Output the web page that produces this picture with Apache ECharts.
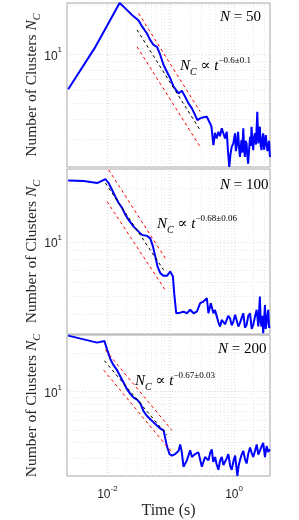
<!DOCTYPE html>
<html><head><meta charset="utf-8">
<script src="https://cdn.jsdelivr.net/npm/echarts@6/dist/echarts.min.js"></script>
<style>html,body{margin:0;padding:0;background:#fff}#c{width:299px;height:520px}</style>
</head><body><div id="c"></div>
<script>
// ---- data (time in s, number of clusters) ----
const timeN50 = [0.0024, 0.00647, 0.0156, 0.0192, 0.0245, 0.0311, 0.0352, 0.0422, 0.0475, 0.0536, 0.0607, 0.0684, 0.0771, 0.0871, 0.0982, 0.111, 0.133, 0.150, 0.169, 0.191, 0.216, 0.243, 0.264, 0.292, 0.329, 0.372, 0.419, 0.44, 0.472, 0.50, 0.53, 0.566, 0.60, 0.640, 0.678, 0.72, 0.767, 0.80, 0.84, 0.88, 0.920, 0.975, 1.01, 1.04, 1.07, 1.10, 1.13, 1.16, 1.20, 1.24, 1.27, 1.31, 1.35, 1.40, 1.44, 1.48, 1.53, 1.58, 1.62, 1.67, 1.73, 1.79, 1.84, 1.89, 1.95, 2.01, 2.07, 2.14, 2.22, 2.33, 2.42, 2.49, 2.56, 2.64, 2.72, 2.80, 2.89, 2.98, 3.08, 3.17, 3.27, 3.37, 3.47, 3.58, 3.69];
const countN50 = [6.10, 11.1, 20.6, 19.1, 17.4, 16.1, 14.8, 13.4, 12.2, 11.4, 11.1, 9.9, 8.6, 7.82, 7.13, 6.33, 5.76, 5.98, 5.49, 5.00, 4.66, 4.24, 3.95, 4.05, 4.11, 4.14, 3.77, 3.60, 2.78, 3.30, 3.05, 3.35, 3.15, 3.52, 3.28, 3.05, 3.35, 2.60, 2.04, 2.45, 2.71, 2.84, 3.10, 3.28, 2.55, 2.71, 3.05, 3.35, 2.70, 2.35, 2.60, 2.98, 2.50, 3.52, 2.70, 2.35, 2.95, 2.84, 2.40, 2.14, 2.60, 3.12, 2.75, 3.60, 2.90, 2.59, 3.10, 3.28, 2.80, 4.45, 2.84, 3.30, 3.60, 2.75, 2.59, 3.05, 3.28, 2.60, 2.84, 3.20, 3.28, 2.55, 2.71, 2.95, 2.35];

const timeN100 = [0.0024, 0.00423, 0.00689, 0.0093, 0.01048, 0.01186, 0.01337, 0.01507, 0.01704, 0.0192, 0.02163, 0.02594, 0.0311, 0.0352, 0.0422, 0.0475, 0.0525, 0.0570, 0.0620, 0.0684, 0.0771, 0.0871, 0.0982, 0.1083, 0.1135, 0.1221, 0.1411, 0.159, 0.180, 0.203, 0.229, 0.259, 0.292, 0.329, 0.372, 0.394, 0.430, 0.472, 0.50, 0.535, 0.565, 0.602, 0.64, 0.678, 0.72, 0.767, 0.81, 0.865, 0.92, 0.975, 1.04, 1.10, 1.17, 1.24, 1.32, 1.40, 1.49, 1.58, 1.68, 1.79, 1.90, 2.01, 2.14, 2.28, 2.42, 2.56, 2.64, 2.72, 2.80, 2.89, 2.98, 3.08, 3.17, 3.27, 3.37, 3.47, 3.58, 3.69];
const countN100 = [22.0, 21.9, 21.3, 22.4, 21.3, 19.5, 17.9, 16.5, 15.5, 14.2, 13.3, 12.2, 11.45, 10.98, 10.84, 10.5, 9.45, 8.32, 7.32, 6.73, 6.50, 6.50, 6.87, 6.44, 5.21, 4.03, 4.06, 4.11, 4.03, 4.21, 4.03, 4.11, 4.58, 4.68, 4.89, 4.03, 4.58, 4.03, 4.20, 3.86, 3.60, 3.40, 3.70, 3.78, 3.50, 3.70, 3.90, 3.78, 3.45, 3.62, 3.95, 3.86, 3.40, 3.55, 3.80, 4.03, 3.35, 3.47, 3.90, 4.03, 3.30, 3.47, 3.85, 4.21, 3.40, 4.99, 3.60, 3.40, 3.90, 3.12, 3.70, 4.48, 3.30, 3.55, 3.95, 4.21, 3.35, 3.40];

const timeN200 = [0.0024, 0.00689, 0.00897, 0.00989, 0.01115, 0.01256, 0.01422, 0.0160, 0.01806, 0.0204, 0.0230, 0.0259, 0.0294, 0.0331, 0.0373, 0.0422, 0.0475, 0.0536, 0.0607, 0.0684, 0.0771, 0.0819, 0.0871, 0.0957, 0.1044, 0.1177, 0.133, 0.1411, 0.150, 0.159, 0.180, 0.203, 0.216, 0.243, 0.274, 0.310, 0.349, 0.394, 0.42, 0.445, 0.47, 0.502, 0.53, 0.566, 0.60, 0.640, 0.68, 0.721, 0.77, 0.813, 0.87, 0.920, 0.98, 1.04, 1.13, 1.18, 1.24, 1.32, 1.40, 1.49, 1.58, 1.68, 1.79, 1.90, 2.01, 2.14, 2.28, 2.42, 2.56, 2.72, 2.89, 3.08, 3.27, 3.47, 3.69];
const countN200 = [27.6, 24.3, 25.0, 21.4, 18.0, 16.07, 14.75, 13.16, 11.73, 10.45, 9.60, 8.96, 8.66, 8.08, 7.01, 6.43, 6.07, 5.73, 5.41, 5.12, 4.97, 4.31, 3.73, 3.23, 3.14, 3.23, 3.42, 3.84, 3.33, 2.57, 2.88, 3.46, 3.06, 3.23, 3.33, 2.57, 3.06, 2.88, 3.30, 3.52, 2.80, 3.06, 2.70, 2.43, 2.85, 3.06, 2.65, 2.57, 3.00, 3.23, 2.60, 2.43, 2.85, 3.14, 2.17, 2.60, 2.88, 3.20, 3.42, 2.95, 2.72, 3.25, 3.63, 3.30, 3.06, 3.40, 3.84, 3.20, 3.42, 3.70, 3.95, 3.06, 3.73, 3.35, 3.52];

// power-law fits: [start, end] time and count
const fitTimeN50 = [0.0294, 0.292];   const fitN50 = [14.1, 3.43];
const upTimeN50 = [0.0311, 0.292];    const upN50 = [17.8, 4.45];
const loTimeN50 = [0.0294, 0.292];    const loN50 = [11.1, 2.71];

const fitTimeN100 = [0.0093, 0.0771]; const fitN100 = [21.3, 7.02];
const upTimeN100 = [0.01048, 0.0819]; const upN100 = [25.2, 8.15];
const loTimeN100 = [0.00989, 0.0819]; const loN100 = [16.8, 5.43];

const fitTimeN200 = [0.00897, 0.0871]; const fitN200 = [17.5, 4.56];
const upTimeN200 = [0.0093, 0.1044];   const upN200 = [21.2, 4.97];
const loTimeN200 = [0.00874, 0.1044];  const loN200 = [14.75, 3.33];

const panelLabels = ['50', '100', '200'];
const fitExponents = ['\u22120.6\u00b10.1', '\u22120.68\u00b10.06', '\u22120.67\u00b10.03'];

// axes
const xRange = [0.0023, 3.7];
const yMins = [2.04, 3.09, 2.17];
const yMaxs = [20.6, 25.5, 27.9];
const xTickValues = [0.01, 1];
const xTickExponents = ['-2', '0'];
const yTickValues = [10];
const yTickExponents = ['1'];
const xGridValues = [0.003,0.004,0.005,0.006,0.007,0.008,0.009,0.01,0.02,0.03,0.04,0.05,0.06,0.07,0.08,0.09,0.1,0.2,0.3,0.4,0.5,0.6,0.7,0.8,0.9,1,2,3];
const yGridValues = [3,4,5,6,7,8,9,10,20];

// ---- chart ----
const chart = echarts.init(document.getElementById('c'), null, {renderer: 'canvas'});
const serif = '"Liberation Serif", "DejaVu Serif", serif';
const sans = '"Liberation Sans", Arial, sans-serif';
const textCol = '#262626';

const grids = [
  {left: 67, top: 3, width: 203, height: 164},
  {left: 67, top: 169, width: 203, height: 165},
  {left: 67, top: 335, width: 203, height: 148}
].map(g => Object.assign(g, {show: true, borderColor: '#a6a6a6', borderWidth: 1, backgroundColor: '#fff'}));

function isTick(v, list) {
  for (let i = 0; i < list.length; i++) {
    if (Math.abs(Math.log10(v) - Math.log10(list[i])) < 1e-6) return i;
  }
  return -1;
}
const supRich = {
  b: {fontFamily: sans, fontSize: 12, color: textCol, lineHeight: 16, verticalAlign: 'bottom'},
  s: {fontFamily: sans, fontSize: 8, color: textCol, lineHeight: 16, verticalAlign: 'top', padding: [0, 0, 0, 0]}
};

const xAxes = [], yAxes = [], series = [];
const times = [timeN50, timeN100, timeN200];
const counts = [countN50, countN100, countN200];
const fits = [
  [[fitTimeN50, fitN50], [upTimeN50, upN50], [loTimeN50, loN50]],
  [[fitTimeN100, fitN100], [upTimeN100, upN100], [loTimeN100, loN100]],
  [[fitTimeN200, fitN200], [upTimeN200, upN200], [loTimeN200, loN200]]
];

for (let p = 0; p < 3; p++) {
  xAxes.push({
    type: 'log', gridIndex: p, min: xRange[0], max: xRange[1],
    axisLine: {show: false}, axisTick: {show: false}, splitLine: {show: false},
    name: p === 2 ? 'Time (s)' : '', nameLocation: 'middle', nameGap: 27, nameMoveOverlap: false,
    nameTextStyle: {fontFamily: serif, fontSize: 16, color: textCol},
    axisLabel: {
      show: p === 2, margin: 9, showMinLabel: true, showMaxLabel: true,
      formatter: v => { const i = isTick(v, xTickValues); return i < 0 ? '' : '{b|10}{s|' + xTickExponents[i] + '}'; },
      rich: supRich
    }
  });
  yAxes.push({
    type: 'log', gridIndex: p, min: yMins[p], max: yMaxs[p],
    axisLine: {show: false}, axisTick: {show: false}, splitLine: {show: false},
    name: '{t|Number of Clusters }{i|N}{c|C}', nameLocation: 'middle', nameRotate: 90, nameGap: 27, nameMoveOverlap: false,
    nameTextStyle: {rich: {
      t: {fontFamily: serif, fontSize: 15.5, color: textCol, lineHeight: 18, verticalAlign: 'bottom'},
      i: {fontFamily: serif, fontSize: 15.5, fontStyle: 'italic', color: textCol, lineHeight: 18, verticalAlign: 'bottom'},
      c: {fontFamily: serif, fontSize: 10.5, fontStyle: 'italic', color: textCol, lineHeight: 18, verticalAlign: 'bottom', padding: [0,0,-3,0]}
    }},
    axisLabel: {
      margin: 5,
      formatter: v => { const i = isTick(v, yTickValues); return i < 0 ? '' : '{b|10}{s|' + yTickExponents[i] + '}'; },
      rich: supRich
    }
  });
  // grid lines through the axes' own scales
  const gl = [];
  xGridValues.forEach(v => gl.push({xAxis: v, lineStyle: {color: isTick(v, [0.01,0.1,1]) >= 0 ? '#d0d0d0' : '#e2e2e2'}}));
  yGridValues.filter(v => v > yMins[p] && v < yMaxs[p]).forEach(v => gl.push({yAxis: v, lineStyle: {color: v === 10 ? '#d0d0d0' : '#e2e2e2'}}));
  series.push({
    type: 'line', xAxisIndex: p, yAxisIndex: p, data: [[xRange[0], yMins[p]]],
    showSymbol: false, symbol: 'none', lineStyle: {opacity: 0}, silent: true, z: 1,
    markLine: {silent: true, symbol: 'none', z: 1, animation: false, label: {show: false},
      lineStyle: {type: [1, 2], width: 0.8}, data: gl}
  });
  // fit lines
  fits[p].forEach((f, k) => {
    series.push({
      type: 'line', xAxisIndex: p, yAxisIndex: p, z: 4,
      data: f[0].map((t, i) => [t, f[1][i]]),
      showSymbol: false, symbol: 'none', silent: true, animation: false,
      lineStyle: {color: k === 0 ? '#000000' : '#ff0000', width: 1, type: [3, 3]}
    });
  });
  // measured cluster counts
  series.push({
    type: 'line', xAxisIndex: p, yAxisIndex: p, z: 3,
    data: times[p].map((t, i) => [t, counts[p][i]]),
    showSymbol: false, symbol: 'none', silent: true, animation: false,
    lineStyle: {color: '#0000ff', width: 2}
  });
}

const annRich = {
  i: {fontFamily: serif, fontSize: 15, fontStyle: 'italic', fill: '#000', lineHeight: 18, verticalAlign: 'bottom'},
  r: {fontFamily: serif, fontSize: 15, fill: '#000', lineHeight: 18, verticalAlign: 'bottom'},
  c: {fontFamily: serif, fontSize: 10, fontStyle: 'italic', fill: '#000', lineHeight: 18, verticalAlign: 'bottom', padding: [0,0,-3,0]},
  e: {fontFamily: serif, fontSize: 9, fill: '#000', lineHeight: 18, verticalAlign: 'top', padding: [0,0,0,0]}
};
const nPos = [[220, 7], [220, 175], [218, 339]];
const fPos = [[180, 56], [157, 214], [135, 371]];
const graphics = [];
for (let p = 0; p < 3; p++) {
  graphics.push({type: 'text', x: nPos[p][0], y: nPos[p][1], z: 10,
    style: {text: '{i|N}{r| = ' + panelLabels[p] + '}', rich: annRich}});
  graphics.push({type: 'text', x: fPos[p][0], y: fPos[p][1], z: 10,
    style: {text: '{i|N}{c|C}{r| \u221d }{i|t}{e|' + fitExponents[p] + '}', rich: annRich}});
}

chart.setOption({
  animation: false,
  backgroundColor: '#ffffff',
  grid: grids,
  xAxis: xAxes,
  yAxis: yAxes,
  series: series,
  graphic: graphics
});
</script></body></html>
